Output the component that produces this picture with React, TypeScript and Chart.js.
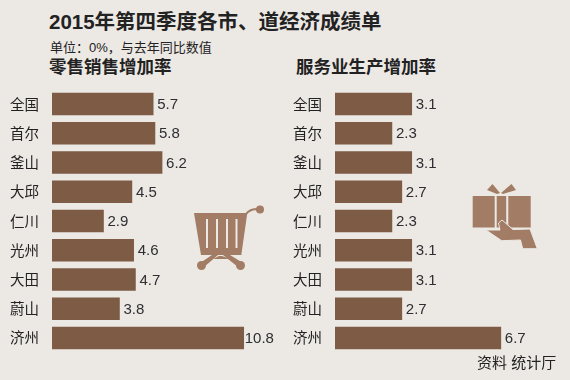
import React, { useEffect, useRef } from "react";
import { Chart, registerables } from "chart.js";

Chart.register(...registerables);

const regions = ["全国", "首尔", "釜山", "大邱", "仁川", "光州", "大田", "蔚山", "济州"];
const retailGrowth = [5.7, 5.8, 6.2, 4.5, 2.9, 4.6, 4.7, 3.8, 10.8];
const serviceGrowth = [3.1, 2.3, 3.1, 2.7, 2.3, 3.1, 3.1, 2.7, 6.7];
const retailLabels = ["5.7", "5.8", "6.2", "4.5", "2.9", "4.6", "4.7", "3.8", "10.8"];
const serviceLabels = ["3.1", "2.3", "3.1", "2.7", "2.3", "3.1", "3.1", "2.7", "6.7"];

const titleText = "2015年第四季度各市、道经济成绩单";
const unitText = "单位：0%，与去年同比数值";
const retailTitle = "零售销售增加率";
const serviceTitle = "服务业生产增加率";
const sourceText = "资料 统计厅";

const BG = "#ece8e4";
const BAR = "#7d5b45";
const ICON = "#a27c64";
const INK = "#222222";
const CJK = '"Liberation Sans", "Noto Sans CJK SC", sans-serif';
const CJK_ONLY = '"Noto Sans CJK SC", sans-serif';

function BarPanel(props: {
  values: number[];
  labels: string[];
  left: number;
  width: number;
  axisWidth: number;
  max: number;
  rightPad: number;
}) {
  const ref = useRef<HTMLCanvasElement | null>(null);
  useEffect(() => {
    const valueLabels = {
      id: "valueLabels",
      afterDatasetsDraw(chart: any) {
        const ctx = chart.ctx;
        const meta = chart.getDatasetMeta(0);
        ctx.save();
        ctx.font = '15px "Liberation Sans", Arial, sans-serif';
        ctx.fillStyle = "#2e2e33";
        ctx.textBaseline = "middle";
        ctx.textAlign = "left";
        meta.data.forEach((el: any, i: number) => {
          const gap = props.labels[i] === "10.8" ? 1 : 4;
          ctx.fillText(props.labels[i], el.x + gap, el.y + 1);
        });
        ctx.restore();
      },
    };
    const chart = new Chart(ref.current as HTMLCanvasElement, {
      type: "bar",
      data: {
        labels: regions,
        datasets: [
          {
            data: props.values,
            backgroundColor: BAR,
            borderWidth: 0,
            barThickness: 22,
          },
        ],
      },
      options: {
        indexAxis: "y",
        animation: false,
        responsive: false,
        layout: { padding: { top: 89.4, bottom: 27.4, left: 0, right: props.rightPad } },
        plugins: { legend: { display: false }, tooltip: { enabled: false } },
        scales: {
          x: { display: false, min: 0, max: props.max },
          y: {
            afterFit(scale: any) {
              scale.width = props.axisWidth;
            },
            grid: { display: false, drawTicks: false },
            border: { display: false },
            ticks: {
              color: INK,
              padding: 13,
              font: { family: CJK_ONLY, size: 14.5 },
            },
          },
        },
      },
      plugins: [valueLabels],
    } as any);
    return () => chart.destroy();
  }, []);
  return (
    <canvas
      ref={ref}
      width={props.width}
      height={380}
      style={{ position: "absolute", left: props.left, top: 0, width: props.width, height: 380 }}
    />
  );
}

function Label(props: { x: number; y: number; size: number; weight?: number; children: React.ReactNode }) {
  return (
    <div
      style={{
        position: "absolute",
        left: props.x,
        top: props.y,
        fontFamily: CJK,
        fontSize: props.size,
        fontWeight: props.weight ?? 400,
        color: INK,
        lineHeight: 1,
        whiteSpace: "nowrap",
      }}
    >
      {props.children}
    </div>
  );
}

function Icons() {
  return (
    <svg width={570} height={380} style={{ position: "absolute", left: 0, top: 0 }}>
      <g fill={ICON}>
        <polygon points="194,213 247.3,213 241.3,255 201,255" />
        <circle cx={260} cy={209.5} r={4} />
        <circle cx={201.5} cy={265.5} r={4.5} />
        <circle cx={240.5} cy={265.5} r={4.5} />
        <path d="M246,214 Q250,209 258,209" fill="none" stroke={ICON} strokeWidth={2} />
        <polygon points="212,255 218,255 204,267 200,263" />
        <polygon points="223,255 230,255 243,263 238,267" />
        <polygon points="213,259 230,259 222,256 219,256" />
      </g>
      <g fill={BG}>
        <rect x={206} y={219} width={2} height={29} />
        <rect x={216} y={219} width={2} height={29} />
        <rect x={226} y={219} width={2} height={29} />
        <rect x={235.5} y={219} width={2} height={29} />
      </g>
      <g fill={ICON}>
        <rect x={472.7} y={196} width={22} height={31.5} />
        <rect x={496.7} y={196} width={9.5} height={31.5} />
        <rect x={508.3} y={196} width={22.4} height={31.5} />
        <polygon points="487,190 492.5,184 500,193 497,194" />
        <polygon points="511.5,184 516,190 503,194 501,193" />
        <polygon
          points="486,230 500,230 498.5,223 502,220 513,229.5 530,229 537.3,248.7 522.7,248.7 520.5,240 501.7,240.7"
          stroke={BG}
          strokeWidth={1}
        />
      </g>
    </svg>
  );
}

export default function App() {
  useEffect(() => {
    document.body.style.margin = "0";
    document.body.style.background = BG;
  }, []);
  return (
    <div style={{ position: "absolute", left: 0, top: 0, width: 570, height: 380, background: BG, overflow: "hidden" }}>
      <Label x={49} y={12} size={20.5} weight={700}>{titleText}</Label>
      <Label x={50} y={40.5} size={13}>{unitText}</Label>
      <Label x={49} y={59} size={17.5} weight={700}>{retailTitle}</Label>
      <Label x={296} y={59} size={17.5} weight={700}>{serviceTitle}</Label>
      <BarPanel values={retailGrowth} labels={retailLabels} left={0} width={285} axisWidth={52} max={12} rightPad={20} />
      <BarPanel values={serviceGrowth} labels={serviceLabels} left={285} width={285} axisWidth={50} max={8} rightPad={37} />
      <Icons />
      <Label x={477} y={354.5} size={15}>{sourceText}</Label>
    </div>
  );
}
